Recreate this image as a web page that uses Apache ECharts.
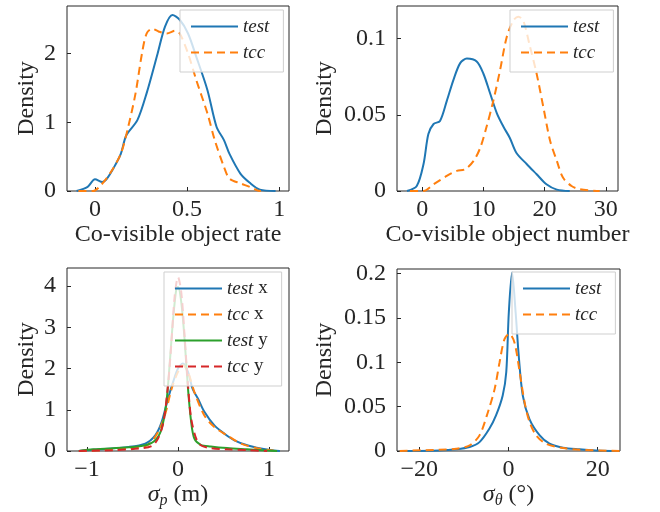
<!DOCTYPE html>
<html>
<head>
<meta charset="utf-8">
<script src="https://cdn.jsdelivr.net/npm/echarts@6/dist/echarts.min.js"></script>
<style>html,body{margin:0;padding:0;background:#fff}#c{width:660px;height:512px}</style>
</head>
<body>
<div id="c"></div>
<script>
// ---- Panel 1: Co-visible object rate ----
const rateXTest = [-0.10,-0.04,0,0.04,0.065,0.10,0.14,0.17,0.23,0.28,0.34,0.38,0.42,0.46,0.505,0.55,0.61,0.66,0.70,0.73,0.79,0.84,0.895,0.98];
const rateYTest = [0,0.06,0.17,0.13,0.18,0.33,0.54,0.81,1.03,1.42,2.0,2.39,2.56,2.49,2.29,1.95,1.47,0.93,0.74,0.54,0.25,0.12,0.02,0];
const rateXTcc = [-0.09,-0.01,0.03,0.08,0.14,0.18,0.22,0.255,0.28,0.31,0.345,0.39,0.435,0.46,0.505,0.55,0.61,0.65,0.70,0.73,0.79,0.84,0.88,0.90];
const rateYTcc = [0,0,0.08,0.25,0.54,0.93,1.42,2.0,2.29,2.36,2.32,2.29,2.33,2.29,2.0,1.61,1.13,0.74,0.35,0.18,0.11,0.06,0.01,0];
const rateXTicks = [0,0.5,1];
const rateYTicks = [0,1,2];

// ---- Panel 2: Co-visible object number ----
const numXTest = [-2.5,-0.9,0.2,1.0,1.85,2.9,4.0,5.1,6.2,7.3,8.9,10,11.1,12.2,13.3,14.3,15.4,17.1,18.7,20.3,22,24.1];
const numYTest = [0,0.0033,0.0176,0.0374,0.044,0.046,0.059,0.073,0.084,0.087,0.085,0.077,0.064,0.051,0.042,0.035,0.025,0.0176,0.011,0.0044,0.0009,0];
const numXTcc = [-2,0.2,1.85,4,5.65,7,8.4,9.5,10.5,11.6,12.7,13.8,14.9,15.7,16.5,17.6,18.7,19.8,20.9,22,23,24.4,25.8,29];
const numYTcc = [0,0,0.0044,0.0099,0.0132,0.0143,0.0198,0.0286,0.042,0.059,0.079,0.101,0.112,0.1145,0.112,0.095,0.077,0.055,0.033,0.0198,0.0088,0.0033,0.0011,0];
const numXTicks = [0,10,20,30];
const numYTicks = [0,0.05,0.1];

// ---- Panel 3: sigma_p ----
const pXTestX = [-1.09,-0.93,-0.54,-0.36,-0.25,-0.18,-0.11,-0.054,0,0.054,0.11,0.16,0.22,0.29,0.40,0.51,0.62,0.76,0.91,1.05,1.12];
const pYTestX = [0,0.03,0.10,0.18,0.38,0.70,1.27,1.67,2.0,2.12,1.92,1.51,1.27,0.95,0.62,0.42,0.26,0.14,0.06,0.01,0];
const pXTccX = [-1.09,-0.54,-0.33,-0.22,-0.145,-0.07,0,0.054,0.11,0.18,0.29,0.40,0.54,0.69,0.87,1.05];
const pYTccX = [0,0.06,0.15,0.46,0.86,1.51,1.92,2.08,1.92,1.43,0.86,0.58,0.38,0.18,0.07,0.01];
const pXTestY = [-1.09,-0.93,-0.54,-0.36,-0.25,-0.18,-0.127,-0.09,-0.054,-0.018,0,0.036,0.072,0.11,0.145,0.18,0.25,0.36,0.54,0.76,0.98,1.09];
const pYTestY = [0,0.04,0.09,0.14,0.26,0.54,1.19,2.16,3.2,3.94,3.98,3.61,2.72,1.51,0.70,0.30,0.15,0.11,0.07,0.04,0.01,0];
const pXTccY = [-1.09,-0.72,-0.43,-0.29,-0.22,-0.16,-0.11,-0.072,-0.036,0,0.036,0.072,0.11,0.145,0.20,0.25,0.36,0.54,0.76,0.98];
const pYTccY = [0,0.02,0.06,0.12,0.30,0.70,1.59,2.64,3.77,4.22,3.85,2.80,1.59,0.78,0.30,0.14,0.07,0.04,0.02,0];
const pXTicks = [-1,0,1];
const pYTicks = [0,1,2,3,4];

// ---- Panel 4: sigma_theta ----
const tXTest = [-24.4,-15.5,-11.7,-8.7,-6.5,-4.3,-2.8,-1.3,-0.5,0.07,0.8,1.6,2.3,3.2,4.7,7.0,9.2,12.2,15.9,19.6,24.9];
const tYTest = [0,0.0007,0.002,0.0045,0.010,0.025,0.040,0.0625,0.089,0.156,0.201,0.156,0.107,0.0625,0.036,0.0176,0.0082,0.0037,0.0019,0.0007,0];
const tXTcc = [-24.4,-15.5,-11.7,-8.7,-6.5,-4.6,-3.1,-2.0,-0.9,0.2,1.35,2.5,3.6,4.7,6.2,8.4,12.2,15.9,24.9];
const tYTcc = [0,0.0015,0.0026,0.0064,0.0176,0.044,0.070,0.100,0.126,0.132,0.122,0.089,0.055,0.033,0.0176,0.0082,0.0034,0.0015,0];
const tXTicks = [-20,0,20];
const tYTicks = [0,0.05,0.1,0.15,0.2];

const FONT = 'Liberation Serif';
const TXT = '#262626';
const FRAME = '#262626';
const FS = 24;
const LFS = 19;
const BLUE = '#1f77b4', ORANGE = '#ff7f0e', GREEN = '#2ca02c', RED = '#d62728';
const zip = (xs, ys) => xs.map((x, i) => [x, ys[i]]);
const fmt = v => String(v).replace('-', '\u2212');

const grids = [
  {left: 67, top: 6, width: 222, height: 185},
  {left: 397, top: 6, width: 221, height: 185},
  {left: 67, top: 268, width: 222, height: 183},
  {left: 397, top: 269, width: 223, height: 182}
].map(g => Object.assign(g, {show: true, borderColor: FRAME, borderWidth: 1, backgroundColor: 'transparent'}));

const nameRich = {
  n: {fontFamily: FONT, fontSize: FS, color: TXT, lineHeight: 28},
  i: {fontFamily: FONT, fontSize: FS, fontStyle: 'italic', color: TXT, lineHeight: 28},
  s: {fontFamily: FONT, fontSize: 16, fontStyle: 'italic', color: TXT, lineHeight: 16, verticalAlign: 'bottom'}
};

function xAx(gi, min, max, ticks, name, gap) {
  return {
    type: 'value', gridIndex: gi, min, max,
    name, nameLocation: 'middle', nameGap: gap,
    nameTextStyle: {fontFamily: FONT, fontSize: FS, color: TXT, rich: nameRich},
    axisLine: {show: false, onZero: false},
    axisTick: {show: true, inside: true, length: 4, customValues: ticks, lineStyle: {color: FRAME}},
    axisLabel: {customValues: ticks, formatter: fmt, fontFamily: FONT, fontSize: FS, color: TXT, margin: 7},
    splitLine: {show: false}
  };
}
function yAx(gi, min, max, ticks, gap) {
  return {
    type: 'value', gridIndex: gi, min, max,
    name: 'Density', nameLocation: 'middle', nameGap: gap, nameRotate: 90,
    nameTextStyle: {fontFamily: FONT, fontSize: FS, color: TXT},
    axisLine: {show: false, onZero: false},
    axisTick: {show: true, inside: true, length: 4, customValues: ticks, lineStyle: {color: FRAME}},
    axisLabel: {customValues: ticks, formatter: fmt, fontFamily: FONT, fontSize: FS, color: TXT, margin: 11},
    splitLine: {show: false}
  };
}

function ser(name, gi, xs, ys, color, dashed) {
  return {
    name, type: 'line', xAxisIndex: gi, yAxisIndex: gi,
    data: zip(xs, ys), showSymbol: false, symbol: 'none', smooth: 0.3,
    lineStyle: {color, width: 2, type: dashed ? [8, 5] : 'solid'},
    itemStyle: {color},
    animation: false
  };
}

function leg(left, top, names) {
  return {
    orient: 'vertical', left, top, data: names,
    itemWidth: 47, itemHeight: 14, itemGap: 7,
    padding: [7, 14, 10, 10],
    backgroundColor: 'rgba(255,255,255,0.78)', borderColor: '#cfcfcf', borderWidth: 1,
    selectedMode: false,
    itemStyle: {color: 'rgba(0,0,0,0)', borderColor: 'rgba(0,0,0,0)', borderWidth: 0},
    formatter: n => n.replace(/^(test|tcc)/, '{i|$1}'),
    textStyle: {fontFamily: FONT, fontSize: LFS, color: TXT,
      rich: {i: {fontFamily: FONT, fontSize: LFS, fontStyle: 'italic', color: TXT}}}
  };
}

const option = {
  animation: false,
  backgroundColor: '#fff',
  grid: grids,
  xAxis: [
    xAx(0, -0.152, 1.053, rateXTicks, 'Co-visible object rate', 27),
    xAx(1, -4.13, 32, numXTicks, 'Co-visible object number', 27),
    xAx(2, -1.22, 1.22, pXTicks, '{i|σ}{s|p}{n| (m)}', 26),
    xAx(3, -25, 25, tXTicks, '{i|σ}{s|θ}{n| (°)}', 26)
  ],
  yAxis: [
    yAx(0, 0, 2.69, rateYTicks, 28),
    yAx(1, 0, 0.1215, numYTicks, 60),
    yAx(2, 0, 4.44, pYTicks, 28),
    yAx(3, 0, 0.205, tYTicks, 60)
  ],
  legend: [
    leg(180, 10, ['test', 'tcc']),
    leg(510, 10, ['test', 'tcc']),
    leg(164, 272, ['test x', 'tcc x', 'test y', 'tcc y']),
    leg(512, 272, ['test', 'tcc'])
  ],
  series: [
    ser('test', 0, rateXTest, rateYTest, BLUE, false),
    ser('tcc', 0, rateXTcc, rateYTcc, ORANGE, true),
    ser('test', 1, numXTest, numYTest, BLUE, false),
    ser('tcc', 1, numXTcc, numYTcc, ORANGE, true),
    ser('test x', 2, pXTestX, pYTestX, BLUE, false),
    ser('tcc x', 2, pXTccX, pYTccX, ORANGE, true),
    ser('test y', 2, pXTestY, pYTestY, GREEN, false),
    ser('tcc y', 2, pXTccY, pYTccY, RED, true),
    ser('test', 3, tXTest, tYTest, BLUE, false),
    ser('tcc', 3, tXTcc, tYTcc, ORANGE, true)
  ]
};

const chart = echarts.init(document.getElementById('c'), null, {renderer: 'canvas'});
chart.setOption(option);
</script>
</body>
</html>
